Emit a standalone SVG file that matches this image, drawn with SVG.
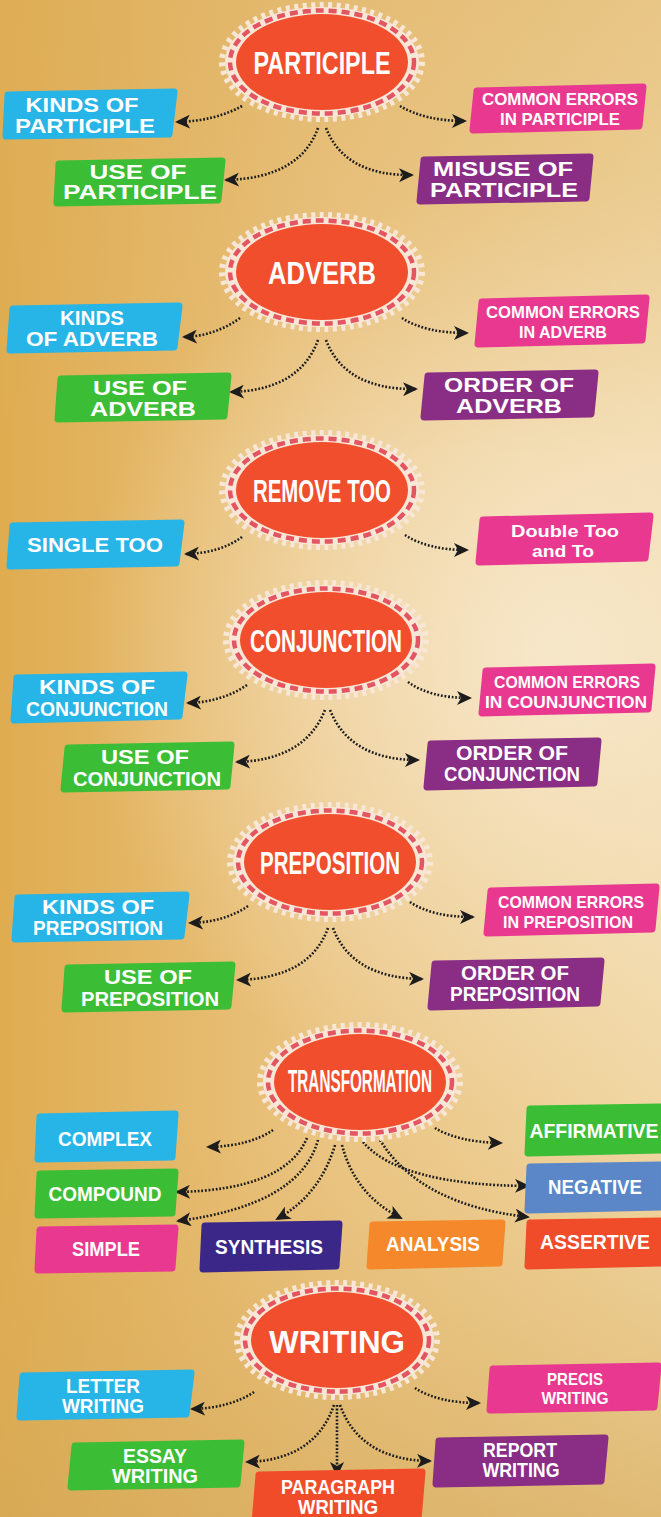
<svg xmlns="http://www.w3.org/2000/svg" xmlns:xlink="http://www.w3.org/1999/xlink" width="661" height="1517" viewBox="0 0 661 1517">
<defs>
<linearGradient id="bgx" x1="0" y1="0" x2="1" y2="0">
<stop offset="0" stop-color="#dfac50"/>
<stop offset="0.5" stop-color="#eac482"/>
<stop offset="1" stop-color="#f0d6a2"/>
</linearGradient>
<radialGradient id="glow" cx="560" cy="650" r="480" gradientUnits="userSpaceOnUse">
<stop offset="0" stop-color="#f8ead0" stop-opacity="0.9"/>
<stop offset="1" stop-color="#f8ead0" stop-opacity="0"/>
</radialGradient>
<linearGradient id="bgy" x1="0" y1="0" x2="0" y2="1">
<stop offset="0" stop-color="#dcae5c" stop-opacity="0.4"/>
<stop offset="0.3" stop-color="#dcae5c" stop-opacity="0"/>
<stop offset="0.75" stop-color="#dcae5c" stop-opacity="0"/>
<stop offset="1" stop-color="#d4a858" stop-opacity="0.6"/>
</linearGradient>
<marker id="ah" markerUnits="userSpaceOnUse" markerWidth="16" markerHeight="14" refX="13" refY="7" orient="auto" viewBox="0 0 16 14">
<path d="M0,0 L15,7 L0,14 L4,7 Z" fill="#1c1c1c"/>
</marker>
<g id="bubble">
<ellipse rx="100" ry="57" fill="none" stroke="#f8e6d6" stroke-width="6" stroke-dasharray="4 4.5"/>
<ellipse rx="97" ry="55" fill="#f8e6d6"/>
<ellipse rx="92" ry="51.5" fill="none" stroke="#e35560" stroke-width="4.5" stroke-dasharray="8 5"/>
<ellipse rx="86" ry="48" fill="#f04e2c"/>
</g>
</defs>
<style>
.bx{stroke-width:7;stroke-linejoin:round}
.blue{fill:#27b4e6;stroke:#27b4e6}
.pink{fill:#e8388f;stroke:#e8388f}
.green{fill:#3cbd36;stroke:#3cbd36}
.purple{fill:#8a2e85;stroke:#8a2e85}
.navy{fill:#3a2788;stroke:#3a2788}
.orange{fill:#f5882a;stroke:#f5882a}
.steel{fill:#5b86c8;stroke:#5b86c8}
.red{fill:#f04c2a;stroke:#f04c2a}
.bt{font-family:"Liberation Sans",Arial,sans-serif;font-weight:bold;font-size:20px;fill:#fff;text-anchor:middle}
.ct{font-family:"Liberation Sans Narrow","Liberation Sans",Arial,sans-serif;font-weight:bold;font-size:17px;fill:#fff;text-anchor:middle}
.et{font-family:"Liberation Sans Narrow","Liberation Sans",Arial,sans-serif;font-weight:bold;font-size:32px;fill:#fff;text-anchor:middle}
.cn path{fill:none;stroke:#1c1c1c;stroke-width:2.6;stroke-dasharray:1.8 1.8;marker-end:url(#ah)}
</style>
<rect width="661" height="1517" fill="url(#bgx)"/>
<rect width="661" height="1517" fill="url(#glow)"/>
<rect width="661" height="1517" fill="url(#bgy)"/>

<g id="connectors" class="cn">
<path d="M242,106 Q215,121 177,122"/>
<path d="M400,106 Q425,121 465,121"/>
<path d="M318,128 Q300,178 226,180"/>
<path d="M326,128 Q345,176 412,175"/>

<path d="M240,318 Q215,336 184,337"/>
<path d="M402,318 Q425,333 467,333"/>
<path d="M318,340 Q300,390 231,392"/>
<path d="M326,340 Q345,390 416,389"/>

<path d="M242,537 Q220,553 186,554"/>
<path d="M405,535 Q428,550 467,550"/>

<path d="M247,685 Q222,702 188,703"/>
<path d="M408,682 Q430,698 470,698"/>
<path d="M325,710 Q305,760 237,762"/>
<path d="M330,710 Q350,760 418,760"/>

<path d="M248,906 Q225,922 190,923"/>
<path d="M410,902 Q432,917 473,917"/>
<path d="M328,928 Q310,978 238,980"/>
<path d="M333,928 Q352,978 422,979"/>

<path d="M273,1130 Q250,1146 208,1147"/>
<path d="M307,1138 Q285,1190 177,1192"/>
<path d="M318,1140 Q300,1205 178,1221"/>
<path d="M335,1145 Q320,1195 277,1219"/>
<path d="M342,1145 Q355,1195 401,1218"/>
<path d="M363,1142 Q400,1185 528,1186"/>
<path d="M380,1140 Q420,1205 528,1217"/>
<path d="M435,1128 Q458,1142 501,1143"/>

<path d="M254,1392 Q230,1408 192,1409"/>
<path d="M415,1388 Q438,1403 479,1403"/>
<path d="M334,1405 Q315,1460 247,1462"/>
<path d="M337,1405 L337,1475"/>
<path d="M340,1405 Q360,1460 430,1461"/>
</g>

<g id="n-participle" transform="translate(322,62)"><use xlink:href="#bubble"/><text class="et" y="12" textLength="137" lengthAdjust="spacingAndGlyphs">PARTICIPLE</text></g>
<g id="n-kinds-participle"><path class="bx blue" d="M8,95 L174,92 L169,134 L6,136 Z"/><text class="bt" x="82" y="112" textLength="113" lengthAdjust="spacingAndGlyphs">KINDS OF</text><text class="bt" x="85" y="133" textLength="140" lengthAdjust="spacingAndGlyphs">PARTICIPLE</text></g>
<g id="n-errors-participle"><path class="bx pink" d="M477,91 L643,87 L639,126 L473,130 Z"/><text class="ct" x="560" y="105" textLength="156" lengthAdjust="spacingAndGlyphs">COMMON ERRORS</text><text class="ct" x="560" y="125" textLength="120" lengthAdjust="spacingAndGlyphs">IN PARTICIPLE</text></g>
<g id="n-use-participle"><path class="bx green" d="M59,164 L222,161 L218,200 L57,203 Z"/><text class="bt" x="138" y="179" textLength="97" lengthAdjust="spacingAndGlyphs">USE OF</text><text class="bt" x="140" y="199" textLength="154" lengthAdjust="spacingAndGlyphs">PARTICIPLE</text></g>
<g id="n-misuse-participle"><path class="bx purple" d="M424,160 L590,157 L586,198 L420,201 Z"/><text class="bt" x="503" y="176" textLength="140" lengthAdjust="spacingAndGlyphs">MISUSE OF</text><text class="bt" x="504" y="197" textLength="148" lengthAdjust="spacingAndGlyphs">PARTICIPLE</text></g>

<g id="n-adverb" transform="translate(322,272)"><use xlink:href="#bubble"/><text class="et" y="12" textLength="108" lengthAdjust="spacingAndGlyphs">ADVERB</text></g>
<g id="n-kinds-adverb"><path class="bx blue" d="M13,309 L179,306 L174,347 L10,350 Z"/><text class="bt" x="92" y="325" textLength="64" lengthAdjust="spacingAndGlyphs">KINDS</text><text class="bt" x="92" y="346" textLength="132" lengthAdjust="spacingAndGlyphs">OF ADVERB</text></g>
<g id="n-errors-adverb"><path class="bx pink" d="M482,302 L646,298 L642,340 L478,344 Z"/><text class="ct" x="563" y="318" textLength="154" lengthAdjust="spacingAndGlyphs">COMMON ERRORS</text><text class="ct" x="563" y="338" textLength="88" lengthAdjust="spacingAndGlyphs">IN ADVERB</text></g>
<g id="n-use-adverb"><path class="bx green" d="M61,379 L228,376 L224,416 L58,419 Z"/><text class="bt" x="140" y="395" textLength="94" lengthAdjust="spacingAndGlyphs">USE OF</text><text class="bt" x="143" y="416" textLength="106" lengthAdjust="spacingAndGlyphs">ADVERB</text></g>
<g id="n-order-adverb"><path class="bx purple" d="M428,376 L595,373 L591,414 L424,417 Z"/><text class="bt" x="509" y="392" textLength="130" lengthAdjust="spacingAndGlyphs">ORDER OF</text><text class="bt" x="509" y="413" textLength="106" lengthAdjust="spacingAndGlyphs">ADVERB</text></g>

<g id="n-remove-too" transform="translate(322,490)"><use xlink:href="#bubble"/><text class="et" y="12" textLength="138" lengthAdjust="spacingAndGlyphs">REMOVE TOO</text></g>
<g id="n-single-too"><path class="bx blue" d="M13,526 L181,523 L176,563 L10,566 Z"/><text class="bt" x="95" y="552" textLength="136" lengthAdjust="spacingAndGlyphs">SINGLE TOO</text></g>
<g id="n-double-too"><path class="bx pink" d="M483,520 L650,516 L645,558 L479,562 Z"/><text class="ct" x="565" y="537" textLength="108" lengthAdjust="spacingAndGlyphs">Double Too</text><text class="ct" x="563" y="557" textLength="62" lengthAdjust="spacingAndGlyphs">and To</text></g>

<g id="n-conjunction" transform="translate(326,640)"><use xlink:href="#bubble"/><text class="et" y="12" textLength="152" lengthAdjust="spacingAndGlyphs">CONJUNCTION</text></g>
<g id="n-kinds-conjunction"><path class="bx blue" d="M17,678 L184,675 L179,716 L14,720 Z"/><text class="bt" x="97" y="694" textLength="116" lengthAdjust="spacingAndGlyphs">KINDS OF</text><text class="bt" x="97" y="716" textLength="142" lengthAdjust="spacingAndGlyphs">CONJUNCTION</text></g>
<g id="n-errors-conjunction"><path class="bx pink" d="M486,671 L652,667 L648,709 L482,713 Z"/><text class="ct" x="567" y="688" textLength="146" lengthAdjust="spacingAndGlyphs">COMMON ERRORS</text><text class="ct" x="566" y="708" textLength="162" lengthAdjust="spacingAndGlyphs">IN COUNJUNCTION</text></g>
<g id="n-use-conjunction"><path class="bx green" d="M68,748 L231,745 L227,786 L64,789 Z"/><text class="bt" x="145" y="764" textLength="88" lengthAdjust="spacingAndGlyphs">USE OF</text><text class="bt" x="147" y="786" textLength="148" lengthAdjust="spacingAndGlyphs">CONJUNCTION</text></g>
<g id="n-order-conjunction"><path class="bx purple" d="M431,744 L598,741 L594,783 L427,787 Z"/><text class="bt" x="512" y="760" textLength="112" lengthAdjust="spacingAndGlyphs">ORDER OF</text><text class="bt" x="512" y="781" textLength="136" lengthAdjust="spacingAndGlyphs">CONJUNCTION</text></g>

<g id="n-preposition" transform="translate(330,862)"><use xlink:href="#bubble"/><text class="et" y="12" textLength="140" lengthAdjust="spacingAndGlyphs">PREPOSITION</text></g>
<g id="n-kinds-preposition"><path class="bx blue" d="M18,898 L186,895 L181,936 L15,939 Z"/><text class="bt" x="98" y="914" textLength="112" lengthAdjust="spacingAndGlyphs">KINDS OF</text><text class="bt" x="98" y="935" textLength="130" lengthAdjust="spacingAndGlyphs">PREPOSITION</text></g>
<g id="n-errors-preposition"><path class="bx pink" d="M491,891 L656,887 L652,929 L487,933 Z"/><text class="ct" x="571" y="908" textLength="146" lengthAdjust="spacingAndGlyphs">COMMON ERRORS</text><text class="ct" x="568" y="928" textLength="130" lengthAdjust="spacingAndGlyphs">IN PREPOSITION</text></g>
<g id="n-use-preposition"><path class="bx green" d="M68,968 L232,965 L228,1006 L65,1009 Z"/><text class="bt" x="148" y="984" textLength="88" lengthAdjust="spacingAndGlyphs">USE OF</text><text class="bt" x="150" y="1006" textLength="138" lengthAdjust="spacingAndGlyphs">PREPOSITION</text></g>
<g id="n-order-preposition"><path class="bx purple" d="M435,964 L601,961 L597,1003 L431,1007 Z"/><text class="bt" x="515" y="980" textLength="108" lengthAdjust="spacingAndGlyphs">ORDER OF</text><text class="bt" x="515" y="1001" textLength="130" lengthAdjust="spacingAndGlyphs">PREPOSITION</text></g>

<g id="n-transformation" transform="translate(360,1082)"><use xlink:href="#bubble"/><text class="et" y="10" font-size="26" textLength="144" lengthAdjust="spacingAndGlyphs">TRANSFORMATION</text></g>
<g id="n-complex"><path class="bx blue" d="M40,1117 L175,1114 L172,1157 L38,1159 Z"/><text class="bt" x="105" y="1146" textLength="94" lengthAdjust="spacingAndGlyphs">COMPLEX</text></g>
<g id="n-compound"><path class="bx green" d="M40,1174 L175,1172 L172,1213 L38,1215 Z"/><text class="bt" x="105" y="1201" textLength="113" lengthAdjust="spacingAndGlyphs">COMPOUND</text></g>
<g id="n-simple"><path class="bx pink" d="M40,1230 L175,1228 L172,1268 L38,1270 Z"/><text class="bt" x="106" y="1256" textLength="68" lengthAdjust="spacingAndGlyphs">SIMPLE</text></g>
<g id="n-synthesis"><path class="bx navy" d="M205,1226 L339,1224 L336,1266 L203,1269 Z"/><text class="bt" x="269" y="1254" textLength="108" lengthAdjust="spacingAndGlyphs">SYNTHESIS</text></g>
<g id="n-analysis"><path class="bx orange" d="M373,1225 L502,1223 L499,1263 L370,1266 Z"/><text class="bt" x="433" y="1251" textLength="94" lengthAdjust="spacingAndGlyphs">ANALYSIS</text></g>
<g id="n-affirmative"><path class="bx green" d="M530,1109 L664,1107 L664,1150 L528,1153 Z"/><text class="bt" x="594" y="1138" textLength="129" lengthAdjust="spacingAndGlyphs">AFFIRMATIVE</text></g>
<g id="n-negative"><path class="bx steel" d="M530,1167 L664,1165 L664,1207 L528,1210 Z"/><text class="bt" x="595" y="1194" textLength="94" lengthAdjust="spacingAndGlyphs">NEGATIVE</text></g>
<g id="n-assertive"><path class="bx red" d="M530,1223 L664,1221 L664,1263 L528,1266 Z"/><text class="bt" x="595" y="1249" textLength="110" lengthAdjust="spacingAndGlyphs">ASSERTIVE</text></g>

<g id="n-writing" transform="translate(337,1340)"><use xlink:href="#bubble"/><text class="et" y="13" font-size="31" font-family="Liberation Sans, Arial, sans-serif" textLength="136" lengthAdjust="spacingAndGlyphs">WRITING</text></g>
<g id="n-letter"><path class="bx blue" d="M23,1376 L191,1373 L186,1414 L20,1417 Z"/><text class="bt" x="103" y="1393" textLength="74" lengthAdjust="spacingAndGlyphs">LETTER</text><text class="bt" x="103" y="1413" textLength="82" lengthAdjust="spacingAndGlyphs">WRITING</text></g>
<g id="n-precis"><path class="bx pink" d="M493,1369 L658,1366 L654,1407 L490,1410 Z"/><text class="ct" x="575" y="1385" textLength="56" lengthAdjust="spacingAndGlyphs">PRECIS</text><text class="ct" x="575" y="1404" textLength="67" lengthAdjust="spacingAndGlyphs">WRITING</text></g>
<g id="n-essay"><path class="bx green" d="M75,1446 L241,1443 L237,1484 L71,1487 Z"/><text class="bt" x="155" y="1463" textLength="64" lengthAdjust="spacingAndGlyphs">ESSAY</text><text class="bt" x="155" y="1483" textLength="86" lengthAdjust="spacingAndGlyphs">WRITING</text></g>
<g id="n-paragraph"><path class="bx red" d="M259,1475 L422,1472 L418,1520 L255,1523 Z"/><text class="bt" x="338" y="1494" textLength="114" lengthAdjust="spacingAndGlyphs">PARAGRAPH</text><text class="bt" x="338" y="1514" textLength="80" lengthAdjust="spacingAndGlyphs">WRITING</text></g>
<g id="n-report"><path class="bx purple" d="M439,1441 L605,1438 L601,1481 L436,1484 Z"/><text class="bt" x="520" y="1457" textLength="74" lengthAdjust="spacingAndGlyphs">REPORT</text><text class="bt" x="521" y="1477" textLength="77" lengthAdjust="spacingAndGlyphs">WRITING</text></g>
</svg>
